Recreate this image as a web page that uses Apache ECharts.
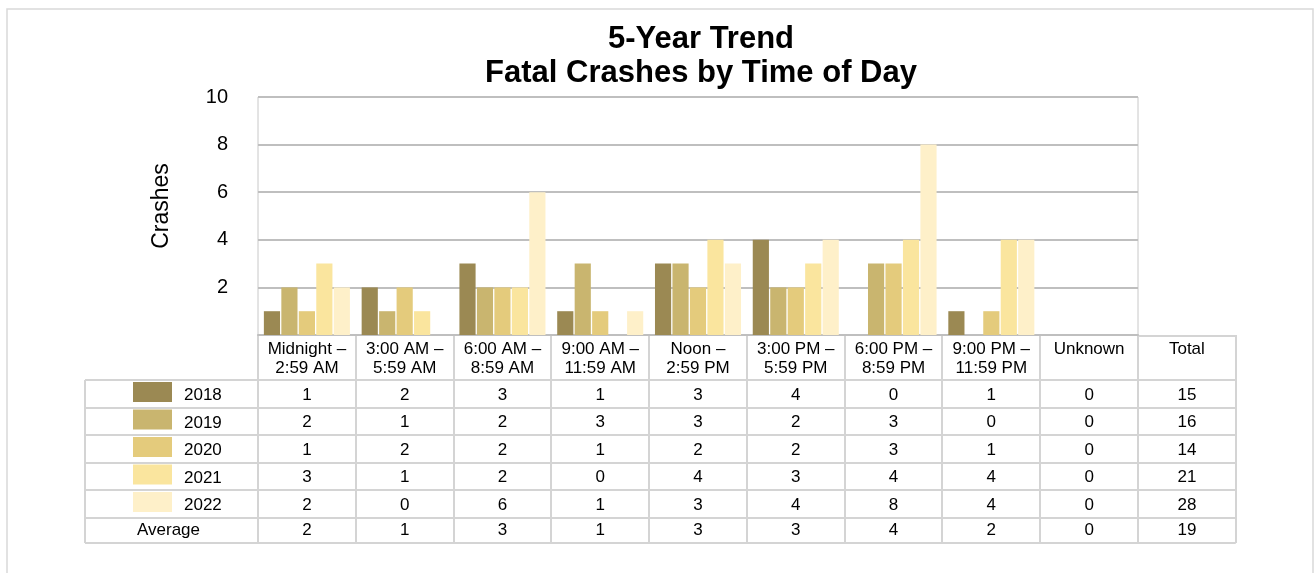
<!DOCTYPE html>
<html>
<head>
<meta charset="utf-8">
<script src="https://cdn.jsdelivr.net/npm/echarts@6/dist/echarts.min.js"></script>
<style>
html,body{margin:0;padding:0;background:#fff;}
#chart{width:1314px;height:573px;}
</style>
</head>
<body>
<div id="chart"></div>
<script>
const categories = ['Midnight –\n2:59 AM', '3:00 AM –\n5:59 AM', '6:00 AM –\n8:59 AM', '9:00 AM –\n11:59 AM', 'Noon –\n2:59 PM', '3:00 PM –\n5:59 PM', '6:00 PM –\n8:59 PM', '9:00 PM –\n11:59 PM', 'Unknown'];
const years = ['2018', '2019', '2020', '2021', '2022'];
const v2018 = [1, 2, 3, 1, 3, 4, 0, 1, 0];
const v2019 = [2, 1, 2, 3, 3, 2, 3, 0, 0];
const v2020 = [1, 2, 2, 1, 2, 2, 3, 1, 0];
const v2021 = [3, 1, 2, 0, 4, 3, 4, 4, 0];
const v2022 = [2, 0, 6, 1, 3, 4, 8, 4, 0];
const yearTotals = [15, 16, 14, 21, 28];
const average = [2, 1, 3, 1, 3, 3, 4, 2, 0];
const averageTotal = 19;
const totalLabel = 'Total';
const averageLabel = 'Average';
const colors = ['#9B8953', '#C9B56F', '#E4CB7C', '#FAE59E', '#FEF0C9'];
const yearValues = [v2018, v2019, v2020, v2021, v2022];

const FONT = '"Liberation Sans", Arial, sans-serif';
const chart = echarts.init(document.getElementById('chart'), null, {renderer: 'canvas'});

const option = {
  animation: false,
  backgroundColor: '#fff',
  title: {
    text: '5-Year Trend\nFatal Crashes by Time of Day',
    left: 696,
    textAlign: 'center',
    top: 17,
    textStyle: {fontFamily: FONT, fontSize: 31, fontWeight: 'bold', color: '#000', lineHeight: 34}
  },
  grid: {
    left: 258, right: 176, top: 97, bottom: 238,
    show: true, borderColor: '#c8c8c8', borderWidth: 1, backgroundColor: 'transparent'
  },
  xAxis: {
    type: 'category',
    data: categories,
    axisLabel: {show: false},
    axisTick: {show: false},
    axisLine: {lineStyle: {color: '#bfbfbf', width: 2}}
  },
  yAxis: {
    type: 'value',
    min: 0, max: 10, interval: 2,
    axisLine: {show: false},
    axisTick: {show: false},
    axisLabel: {
      margin: 30, fontFamily: FONT, fontSize: 20, color: '#000',
      formatter: v => (v === 0 ? '' : String(v))
    },
    splitLine: {lineStyle: {color: '#bfbfbf', width: 2}}
  },
  series: years.map((y, i) => ({
    name: y,
    type: 'bar',
    data: yearValues[i],
    itemStyle: {color: colors[i]},
    barGap: '8%',
    barCategoryGap: '12%'
  }))
};
chart.setOption(option);

// Build the data table below the plot using the axis scale for column positions
const c0 = chart.convertToPixel({xAxisIndex: 0}, 0);
const c1 = chart.convertToPixel({xAxisIndex: 0}, 1);
const band = c1 - c0;
const plotLeft = c0 - band / 2;
const nCat = categories.length;
const plotRight = plotLeft + band * nCat;
const totalRight = plotRight + band;
const axisY = chart.convertToPixel({yAxisIndex: 0}, 0);
const tableLeft = 85;
const headerBottom = axisY + 45;
const rowH = 27.5;
const rowTops = [];
for (let r = 0; r <= 6; r++) rowTops.push(headerBottom + r * rowH);
rowTops[6] = rowTops[5] + 25.5;

const LC = '#d4d4d4';
const els = [];
function hline(x1, x2, y) {
  els.push({type: 'line', shape: {x1: x1, y1: y, x2: x2, y2: y}, style: {stroke: LC, lineWidth: 2}, silent: true});
}
function vline(x, y1, y2) {
  els.push({type: 'line', shape: {x1: x, y1: y1, x2: x, y2: y2}, style: {stroke: LC, lineWidth: 2}, silent: true});
}
function txt(text, x, y, align, vAlign, size, extra) {
  els.push(Object.assign({
    type: 'text', x: x, y: y,
    style: {text: text, fill: '#000', font: size + 'px ' + FONT, align: align, verticalAlign: vAlign, lineHeight: 19}
  }, extra || {}));
}

// outer frame
els.push({type: 'rect', shape: {x: 7, y: 9, width: 1306, height: 600}, style: {fill: 'none', stroke: '#d9d9d9', lineWidth: 1.5}, silent: true, z: -1});

// table grid lines
hline(plotRight, totalRight, Math.round(axisY) + 1);
rowTops.forEach(y => hline(tableLeft, totalRight, Math.round(y)));
vline(tableLeft, Math.round(rowTops[0]), Math.round(rowTops[6]));
for (let k = 0; k <= nCat; k++) {
  vline(Math.round(plotLeft + k * band), Math.round(axisY), Math.round(rowTops[6]));
}
vline(Math.round(totalRight), Math.round(axisY), Math.round(rowTops[6]));

// header labels
categories.forEach((c, i) => {
  txt(c, plotLeft + (i + 0.5) * band, axisY + 5, 'center', 'top', 17);
});
txt(totalLabel, plotRight + band / 2, axisY + 5, 'center', 'top', 17);

// year rows
years.forEach((y, r) => {
  const top = rowTops[r];
  const mid = (rowTops[r] + rowTops[r + 1]) / 2;
  els.push({type: 'rect', shape: {x: 133, y: top + 2, width: 39, height: 20}, style: {fill: colors[r]}, silent: true});
  txt(y, 184, mid + 2, 'left', 'middle', 17);
  yearValues[r].forEach((v, i) => {
    txt(String(v), plotLeft + (i + 0.5) * band, mid + 1.5, 'center', 'middle', 17);
  });
  txt(String(yearTotals[r]), plotRight + band / 2, mid + 1.5, 'center', 'middle', 17);
});

// average row
const aMid = (rowTops[5] + rowTops[6]) / 2;
txt(averageLabel, 137, aMid, 'left', 'middle', 17);
average.forEach((v, i) => {
  txt(String(v), plotLeft + (i + 0.5) * band, aMid, 'center', 'middle', 17);
});
txt(String(averageTotal), plotRight + band / 2, aMid, 'center', 'middle', 17);

// y-axis title
txt('Crashes', 162, 206, 'center', 'middle', 23, {rotation: Math.PI / 2});

chart.setOption({graphic: {elements: els}});
</script>
</body>
</html>
